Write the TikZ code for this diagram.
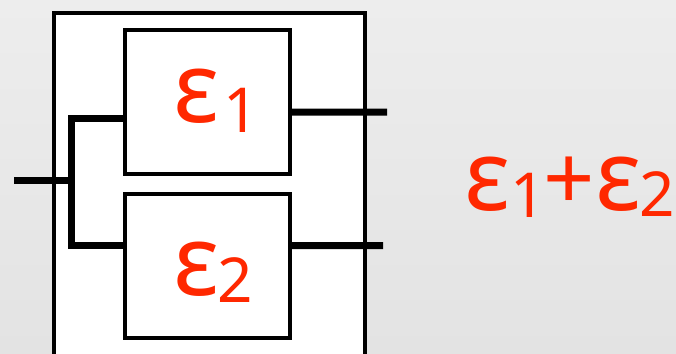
\documentclass[tikz,border=0pt]{standalone}
\usepackage{fontspec}
\setmainfont{Noto Sans}
\definecolor{sigred}{RGB}{255,40,0}
\definecolor{bgtop}{RGB}{237,237,237}
\definecolor{bgbot}{RGB}{227,227,227}
% epsilon followed by a lowered, smaller index: {index}{kern}{drop}
\newcommand{\epsi}[3]{ε\kern#2\raisebox{-#3}{\fontsize{62bp}{62bp}\selectfont #1}}
\tikzset{
  frame/.style={draw=black, line width=4bp, fill=white},
  block/.style={frame, minimum width=165bp, minimum height=144bp, inner sep=0pt},
  wire/.style={draw=black, line width=7bp, line join=miter},
  sym/.style={text=sigred, font=\fontsize{98bp}{98bp}\selectfont, inner sep=0pt, anchor=base west}
}
\begin{document}
\begin{tikzpicture}[x=1bp, y=1bp]
  \useasboundingbox (0,0) rectangle (676,353);
  \clip (0,0) rectangle (676,353);
  \shade[top color=bgtop, bottom color=bgbot] (0,0) rectangle (676,353);
  % enclosing system box, running past the lower edge
  \node[frame, minimum width=311bp, minimum height=362bp, inner sep=0pt, anchor=north west]
    (outer) at (52,342) {};
  % the two parallel blocks and their labels
  \node[block] (e1) at (207.5,251) {};
  \node[block] (e2) at (207.5,87.5) {};
  \node[sym] (l1) at (173,231) {\epsi{1}{4bp}{10bp}};
  \node[sym] (l2) at (173,58) {\epsi{2}{-2bp}{7bp}};
  % input split into both blocks
  \coordinate (in) at (14,172.5);
  \coordinate (split) at (71.5,172.5);
  \draw[wire] ([yshift=-16.5bp]e1.west) -| (split) |- ([yshift=20bp]e2.west);
  \draw[wire] (in) -- (split);
  % outputs
  \coordinate (out1) at (387,241);
  \coordinate (out2) at (383,107.5);
  \draw[wire] ([yshift=-10bp]e1.east) -- (out1);
  \draw[wire] ([yshift=20bp]e2.east) -- (out2);
  % combined result
  \node[sym] (total) at (464,143)
    {\epsi{1}{0bp}{7bp}\kern-2bp{\fontsize{90bp}{90bp}\selectfont+}\kern0bp\epsi{2}{-2bp}{6bp}};
\end{tikzpicture}
\end{document}
